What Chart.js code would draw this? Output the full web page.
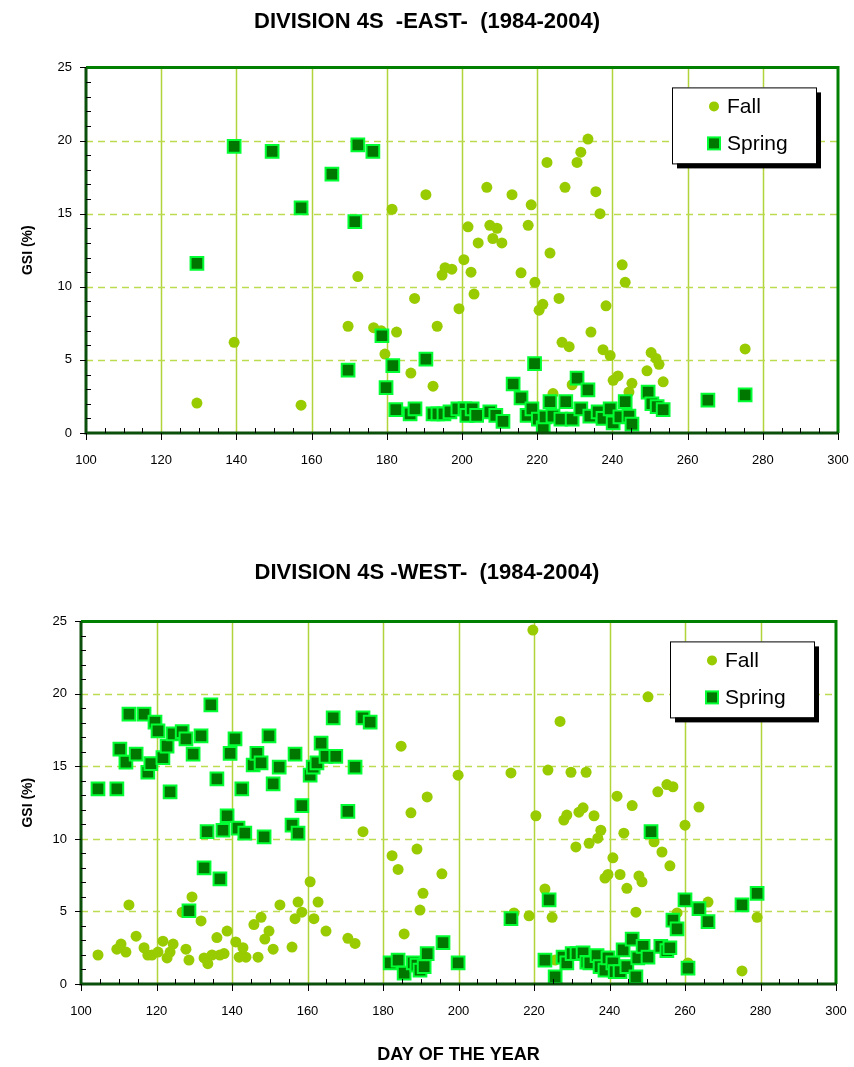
<!DOCTYPE html>
<html>
<head>
<meta charset="utf-8">
<script src="https://cdn.jsdelivr.net/npm/chart.js@4.4.1/dist/chart.umd.min.js"></script>
<style>
body{margin:0;background:#fff;}
.box{position:absolute;left:0;width:854px;}
</style>
</head>
<body>
<div class="box" style="top:0;height:500px"><canvas id="east" width="854" height="500"></canvas></div>
<div class="box" style="top:530px;height:537px"><canvas id="west" width="854" height="537"></canvas></div>
<script>
// --- EAST (top chart) ---
var eastFallDay = [129.5,139.4,157.2,169.7,172.3,176.5,178.5,179.5,181.4,182.6,186.4,187.4,190.4,192.3,193.4,194.7,195.5,197.3,199.2,200.5,
  201.6,202.4,203.2,204.3,206.6,207.4,208.2,209.3,210.6,213.3,215.7,217.6,218.4,219.4,220.5,221.5,222.6,223.4,224.2,225.8,
  226.6,227.4,228.5,229.3,230.6,231.6,233.5,234.3,235.6,236.7,237.5,238.3,239.4,240.2,241.5,242.6,243.4,244.4,245.2,249.2,
  250.3,251.6,252.4,253.5,275.3];
var eastFallGsi = [2.05,6.2,1.9,7.3,10.7,7.2,7.0,5.4,15.3,6.9,4.1,9.2,16.3,3.2,7.3,10.8,11.3,11.2,8.5,11.85,
  14.1,11.0,9.5,13.0,16.8,14.2,13.3,14.0,13.0,16.3,10.95,14.2,15.6,10.3,8.4,8.8,18.5,12.3,2.7,9.2,
  6.2,16.8,5.9,3.3,18.5,19.2,20.1,6.9,16.5,15.0,5.7,8.7,5.3,3.6,3.9,11.5,10.3,2.8,3.4,4.25,
  5.5,5.1,4.7,3.5,5.75];
var eastSpringDay = [129.5,139.4,149.5,157.2,165.4,169.7,171.5,172.3,176.3,178.7,179.8,181.6,182.4,186.2,187.5,190.4,192.3,193.6,195.2,196.8,
  198.9,200.8,201.3,202.7,203.9,207.4,209.0,210.9,213.6,215.7,217.3,218.6,219.3,220.3,221.6,222.1,223.4,224.2,226.3,227.6,
  229.3,230.6,231.6,233.5,234.0,236.2,237.5,239.4,240.2,242.0,243.4,244.4,245.2,249.5,250.5,251.9,253.5,265.4,275.3];
var eastSpringGsi = [11.6,19.6,19.25,15.4,17.7,4.3,14.45,19.7,19.25,6.65,3.1,4.6,1.6,1.3,1.65,5.05,1.3,1.3,1.3,1.45,
  1.65,1.65,1.2,1.65,1.2,1.45,1.2,0.8,3.35,2.4,1.2,1.65,4.75,0.95,0.35,1.1,2.15,1.15,0.95,2.15,
  0.95,3.75,1.65,2.95,1.15,1.45,1.0,1.65,0.7,1.1,2.15,1.15,0.6,2.8,2.0,1.8,1.6,2.25,2.6];

// --- WEST (bottom chart) ---
var westFallDay = [104.5,109.5,110.6,111.9,112.7,114.6,116.7,117.7,118.8,120.4,121.7,122.8,123.6,124.4,126.8,127.8,128.6,129.4,131.8,132.6,
  133.6,134.7,136.0,136.8,137.9,138.7,141.0,141.9,142.9,143.7,145.8,146.9,147.7,148.7,149.8,150.9,152.7,155.9,156.7,157.5,
  158.5,160.7,161.7,162.8,164.9,170.7,172.6,174.7,182.4,184.0,184.8,185.6,187.4,189.0,189.8,190.6,191.7,195.6,199.9,213.9,
  214.7,218.7,219.7,220.5,222.9,223.7,224.8,225.6,226.9,227.9,228.7,229.8,231.1,231.9,233.0,233.8,234.6,235.9,236.9,237.7,
  238.8,239.6,240.9,242.0,242.8,243.8,244.6,246.0,247.0,247.8,248.6,250.2,251.8,252.8,253.9,255.2,256.0,256.8,257.9,260.0,
  260.8,263.7,266.1,275.1,279.1];
var westFallGsi = [2.0,2.4,2.75,2.2,5.45,3.3,2.5,2.0,2.0,2.2,2.95,1.8,2.2,2.75,4.95,2.4,1.65,6.0,4.35,1.8,
  1.4,2.0,3.2,2.0,2.1,3.65,2.9,1.85,2.5,1.85,4.1,1.85,4.6,3.1,3.65,2.4,5.45,2.55,4.5,5.65,
  4.95,7.05,4.5,5.65,3.65,3.15,2.8,10.5,8.85,7.9,16.4,3.45,11.8,9.3,5.1,6.25,12.9,7.6,14.4,14.55,
  4.9,4.7,24.4,11.6,6.55,14.75,4.6,1.65,18.1,11.3,11.65,14.6,9.45,11.85,12.15,14.6,9.7,11.6,10.05,10.6,
  7.3,7.55,8.7,12.95,7.55,10.4,6.6,12.3,4.95,7.45,7.05,19.8,9.8,13.25,9.1,13.75,8.15,13.6,4.9,10.95,
  1.45,12.2,5.65,0.9,4.6];
var westSpringDay = [104.5,109.5,110.3,111.9,112.7,114.6,116.7,117.7,118.5,119.6,120.4,121.7,122.8,123.6,124.4,126.8,127.8,128.6,129.7,131.8,
  132.6,133.4,134.4,136.0,136.8,137.6,138.7,139.5,140.8,141.6,142.6,143.4,145.6,146.6,147.7,148.5,149.8,150.9,152.5,155.9,
  156.7,157.5,158.5,160.7,161.5,162.5,163.6,164.9,166.8,167.5,170.7,172.6,174.7,176.6,181.9,184.0,185.6,188.0,189.0,189.8,
  190.9,191.7,195.9,199.9,213.9,222.9,224.0,225.6,227.7,228.7,230.1,231.4,233.0,234.0,234.8,236.7,237.5,238.8,239.6,240.9,
  241.5,242.8,243.6,244.6,246.0,247.0,247.5,248.9,250.2,251.0,253.6,255.2,256.0,256.8,257.9,260.0,260.8,263.7,266.1,275.1,
  279.1];
var westSpringGsi = [13.45,13.45,16.2,15.3,18.6,15.85,18.6,14.6,15.2,18.05,17.45,15.6,16.4,13.25,17.25,17.4,16.9,5.05,15.85,17.1,
  8.0,10.5,19.25,14.15,7.25,10.6,11.6,15.9,16.9,10.75,13.45,10.4,15.1,15.9,15.25,10.15,17.1,13.8,14.95,10.95,
  15.85,10.4,12.3,14.4,14.95,15.25,16.6,15.7,18.35,15.7,11.9,14.95,18.35,18.05,1.45,1.65,0.75,1.45,1.3,0.95,
  1.2,2.1,2.85,1.45,4.5,1.65,5.8,0.5,1.85,1.45,2.1,2.1,2.15,1.5,1.45,1.95,1.2,0.95,1.8,1.45,
  0.85,0.85,2.35,1.2,3.1,0.5,1.8,2.6,1.85,10.5,2.6,2.3,2.5,4.4,3.8,5.8,1.1,5.2,4.3,5.45,
  6.25];

var seriesNames = ['Fall', 'Spring'];
var FONT = "'Liberation Sans Narrow', 'Liberation Sans', Arial, sans-serif";
Chart.defaults.font.family = FONT;
Chart.defaults.color = '#000';

function toPoints(xs, ys) {
  var out = [];
  for (var i = 0; i < xs.length; i++) out.push({x: xs[i], y: ys[i]});
  return out;
}

// grid lines, frame, tick marks and boxed legend
var gsiDecor = {
  id: 'gsiDecor',
  beforeDatasetsDraw: function(chart) {
    var ctx = chart.ctx, a = chart.chartArea, xs = chart.scales.x, ys = chart.scales.y;
    ctx.save();
    ctx.lineWidth = 1.5;
    ctx.strokeStyle = '#b0d43a';
    for (var v = xs.min + 20; v < xs.max; v += 20) {
      var px = Math.round(xs.getPixelForValue(v)) + 0.5;
      ctx.beginPath(); ctx.moveTo(px, a.top); ctx.lineTo(px, a.bottom); ctx.stroke();
    }
    ctx.setLineDash([7, 5]);
    ctx.strokeStyle = '#bcdc50';
    for (var w = ys.min + 5; w < ys.max; w += 5) {
      var py = Math.round(ys.getPixelForValue(w)) + 0.5;
      ctx.beginPath(); ctx.moveTo(a.left, py); ctx.lineTo(a.right, py); ctx.stroke();
    }
    ctx.restore();
  },
  afterDatasetsDraw: function(chart) {
    var ctx = chart.ctx, a = chart.chartArea, xs = chart.scales.x, ys = chart.scales.y;
    ctx.save();
    ctx.lineWidth = 3;
    ctx.strokeStyle = '#008000';
    ctx.beginPath(); ctx.moveTo(a.left, a.top); ctx.lineTo(a.right, a.top); ctx.lineTo(a.right, a.bottom); ctx.stroke();
    ctx.strokeStyle = '#0a4f0a';
    ctx.beginPath(); ctx.moveTo(a.left, a.top); ctx.lineTo(a.left, a.bottom); ctx.lineTo(a.right, a.bottom); ctx.stroke();
    ctx.lineWidth = 1;
    ctx.strokeStyle = '#000';
    var v, p;
    for (v = xs.min; v <= xs.max; v += 5) {
      p = Math.round(xs.getPixelForValue(v)) + 0.5;
      ctx.beginPath();
      if (v % 20 === 0) { ctx.moveTo(p, a.bottom); ctx.lineTo(p, a.bottom + 7); }
      else { ctx.moveTo(p, a.bottom); ctx.lineTo(p, a.bottom - 5); }
      ctx.stroke();
    }
    for (v = ys.min; v <= ys.max; v += 1) {
      p = Math.round(ys.getPixelForValue(v)) + 0.5;
      ctx.beginPath();
      if (v % 5 === 0) { ctx.moveTo(a.left - 6, p); ctx.lineTo(a.left, p); }
      else { ctx.moveTo(a.left, p); ctx.lineTo(a.left + 5, p); }
      ctx.stroke();
    }
    ctx.restore();
  },
  afterDraw: function(chart) {
    var ctx = chart.ctx, a = chart.chartArea;
    var l = a.right - 166, t = a.top + 20, w = 144, h = 76;
    ctx.save();
    ctx.fillStyle = '#000';
    ctx.fillRect(l + 5, t + 5, w, h);
    ctx.fillStyle = '#fff';
    ctx.fillRect(l, t, w, h);
    ctx.strokeStyle = '#000';
    ctx.lineWidth = 1;
    ctx.strokeRect(l + 0.5, t + 0.5, w, h);
    ctx.font = '21px ' + FONT;
    ctx.textBaseline = 'middle';
    var ds = chart.data.datasets;
    for (var i = 0; i < ds.length; i++) {
      var cy = t + 19 + i * 37, cx = l + 42;
      if (ds[i].pointStyle === 'circle') {
        ctx.fillStyle = ds[i].backgroundColor;
        ctx.beginPath(); ctx.arc(cx, cy, 5, 0, Math.PI * 2); ctx.fill();
      } else {
        ctx.fillStyle = ds[i].backgroundColor;
        ctx.fillRect(cx - 6, cy - 6, 12, 12);
        ctx.strokeStyle = ds[i].borderColor;
        ctx.lineWidth = 2;
        ctx.strokeRect(cx - 6, cy - 6, 12, 12);
      }
      ctx.fillStyle = '#000';
      ctx.fillText(ds[i].label, l + 55, cy + 1);
    }
    ctx.restore();
  }
};

function makeChart(id, title, fallDay, fallGsi, springDay, springGsi, o) {
  return new Chart(document.getElementById(id), {
    type: 'scatter',
    data: {
      datasets: [{
        label: seriesNames[0],
        data: toPoints(fallDay, fallGsi),
        pointStyle: 'circle',
        pointRadius: 5.5,
        backgroundColor: '#99cc00',
        borderWidth: 0,
        order: 2
      }, {
        label: seriesNames[1],
        data: toPoints(springDay, springGsi),
        pointStyle: 'rect',
        pointRadius: 9,
        backgroundColor: '#007800',
        borderColor: '#00ff33',
        borderWidth: 2,
        order: 1
      }]
    },
    options: {
      responsive: false,
      animation: false,
      layout: {padding: {left: 0, right: 0, top: 0, bottom: 0}},
      plugins: {
        legend: {display: false},
        tooltip: {enabled: false},
        title: {
          display: true,
          text: title,
          font: {size: 22, weight: 'bold'},
          color: '#000',
          padding: o.titlePad
        }
      },
      scales: {
        x: {
          type: 'linear', min: 100, max: 300,
          ticks: {stepSize: 20, font: {size: 13}, color: '#000', padding: 20},
          grid: {display: false, drawTicks: false},
          border: {display: false},
          title: {display: o.xTitle, text: 'DAY OF THE YEAR', font: {size: 18, weight: 'bold'}, color: '#000', padding: {top: 4, bottom: 1}},
          afterFit: function(s) { s.height = o.xHeight; s.paddingRight = o.right; s.paddingLeft = 0; }
        },
        y: {
          min: 0, max: 25,
          ticks: {stepSize: 5, font: {size: 13}, color: '#000', padding: 14},
          grid: {display: false, drawTicks: false},
          border: {display: false},
          title: {display: true, text: 'GSI (%)', font: {size: 14, weight: 'bold'}, color: '#000', padding: {top: 20, bottom: 4}},
          afterFit: function(s) { s.width = o.yWidth; }
        }
      }
    },
    plugins: [gsiDecor]
  });
}

makeChart('east', 'DIVISION 4S  -EAST-  (1984-2004)', eastFallDay, eastFallGsi, eastSpringDay, eastSpringGsi,
  {right: 16, yWidth: 86, xHeight: 67, xTitle: false, titlePad: {top: 9, bottom: 32}});
makeChart('west', 'DIVISION 4S -WEST-  (1984-2004)', westFallDay, westFallGsi, westSpringDay, westSpringGsi,
  {right: 18, yWidth: 81, xHeight: 83, xTitle: true, titlePad: {top: 30, bottom: 35}});
</script>
</body>
</html>
